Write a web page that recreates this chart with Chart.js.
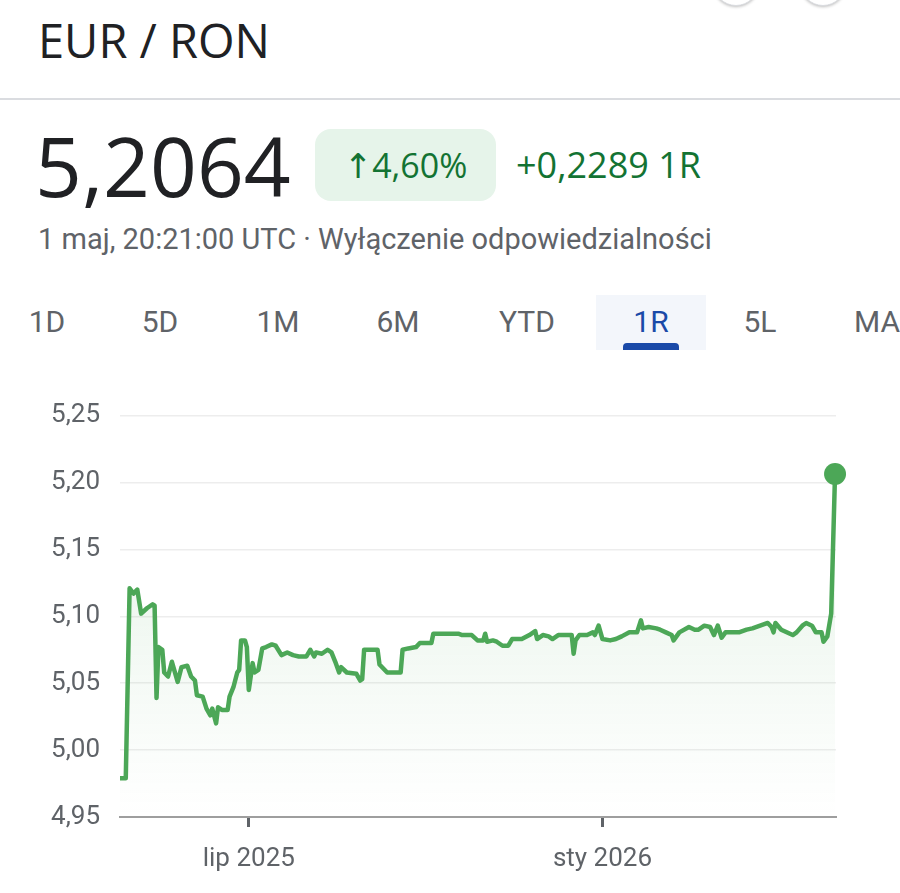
<!DOCTYPE html>
<html>
<head>
<meta charset="utf-8">
<script src="https://cdn.jsdelivr.net/npm/chart.js@4.4.1/dist/chart.umd.min.js"></script>
<style>
  body { margin: 0; width: 900px; height: 893px; overflow: hidden; background: #fff; position: relative; font-family: Roboto, sans-serif; }
  .abs { position: absolute; white-space: nowrap; }
  .btn { position: absolute; top: -40px; width: 44px; height: 44px; border-radius: 50%; border: 1px solid #dadce0; box-shadow: 0 1px 3px rgba(0,0,0,0.25); background: #fff; }
  #title { left: 38px; top: 17px; font-family: "Open Sans", sans-serif; font-size: 47px; line-height: 1; color: #202124; }
  #sep { left: 0; top: 98px; width: 900px; height: 2px; background: #dadce0; }
  #price { left: 35px; top: 124px; font-family: "Open Sans", sans-serif; font-size: 82px; line-height: 1; color: #202124; }
  #badge { left: 315px; top: 129px; width: 181px; height: 72px; border-radius: 16px; background: #e6f4ea; color: #137333;
           font-family: "Open Sans", "DejaVu Sans", sans-serif; font-size: 34px; line-height: 72px; text-align: center; }
  #change { left: 516px; top: 145px; font-family: "Open Sans", sans-serif; font-size: 36px; line-height: 40px; color: #137333; }
  #sub { left: 38px; top: 223px; font-size: 29px; line-height: 32px; color: #5f6368; }
  #tabsel { left: 596px; top: 295px; width: 110px; height: 55px; background: #f3f6fb; }
  #tabline { left: 623px; top: 343px; width: 56px; height: 7px; border-radius: 4px 4px 0 0; background: #1a4aa8; }
  .tab { top: 305px; font-size: 30px; line-height: 34px; color: #5f6368; transform: translateX(-50%); }
  #chartBox { position: absolute; left: 0; top: 380px; width: 900px; height: 513px; }
</style>
</head>
<body>
<div class="btn" style="left:713px"></div>
<div class="btn" style="left:800px"></div>
<div id="title" class="abs">EUR / RON</div>
<div id="sep" class="abs"></div>
<div id="price" class="abs">5,2064</div>
<div id="badge" class="abs">↑4,60%</div>
<div id="change" class="abs">+0,2289 1R</div>
<div id="sub" class="abs">1 maj, 20:21:00 UTC · Wyłączenie odpowiedzialności</div>
<div id="tabsel" class="abs"></div>
<div id="tabline" class="abs"></div>
<div class="abs tab" style="left:47px">1D</div>
<div class="abs tab" style="left:160px">5D</div>
<div class="abs tab" style="left:278px">1M</div>
<div class="abs tab" style="left:398px">6M</div>
<div class="abs tab" style="left:527px">YTD</div>
<div class="abs tab" style="left:651px;color:#1a4aa8">1R</div>
<div class="abs tab" style="left:760px">5L</div>
<div class="abs tab" style="left:877px">MA</div>
<div id="chartBox"><canvas id="rateChart" width="900" height="513"></canvas></div>

<script>
// days since 24 Apr 2025
var dayOffsets = [1, 4, 6, 8, 10, 12, 15, 18, 19, 20, 21, 23, 24, 26, 28, 31, 33, 36, 38, 40,
  41, 44, 46, 48, 49, 51, 52, 54, 57, 58, 60, 62, 63, 64, 66, 67, 68, 70, 71, 73,
  75, 77, 80, 82, 85, 88, 91, 94, 98, 100, 102, 103, 106, 109, 111, 113, 115, 116, 119, 124,
  126, 127, 128, 135, 136, 140, 147, 148, 151, 155, 157, 163, 164, 177, 179, 184, 187, 190, 191, 192,
  195, 197, 200, 203, 205, 210, 214, 217, 218, 221, 224, 226, 229, 233, 236, 237, 238, 240, 244, 247,
  248, 250, 252, 256, 259, 262, 266, 270, 272, 273, 276, 280, 282, 285, 288, 289, 292, 297, 300, 302,
  305, 308, 310, 312, 314, 316, 320, 323, 327, 330, 334, 338, 340, 341, 342, 345, 351, 353, 356, 358,
  361, 363, 366, 367, 369, 371, 373];

var rates = [4.979, 4.979, 5.121, 5.117, 5.120, 5.102, 5.106, 5.109, 5.108, 5.039, 5.077, 5.075, 5.058, 5.055, 5.066, 5.051, 5.062, 5.063, 5.055, 5.052,
  5.041, 5.040, 5.031, 5.026, 5.031, 5.020, 5.032, 5.030, 5.030, 5.040, 5.047, 5.058, 5.060, 5.082, 5.082, 5.077, 5.045, 5.065, 5.058, 5.060,
  5.076, 5.077, 5.079, 5.078, 5.071, 5.073, 5.071, 5.070, 5.070, 5.075, 5.070, 5.073, 5.072, 5.075, 5.073, 5.066, 5.058, 5.062, 5.058, 5.057,
  5.052, 5.053, 5.075, 5.075, 5.064, 5.058, 5.058, 5.075, 5.076, 5.077, 5.080, 5.080, 5.087, 5.087, 5.086, 5.086, 5.082, 5.082, 5.087, 5.081,
  5.082, 5.081, 5.078, 5.078, 5.083, 5.083, 5.086, 5.089, 5.083, 5.086, 5.085, 5.083, 5.086, 5.086, 5.086, 5.072, 5.082, 5.086, 5.086, 5.088,
  5.086, 5.093, 5.083, 5.082, 5.083, 5.085, 5.088, 5.088, 5.097, 5.091, 5.092, 5.091, 5.090, 5.088, 5.086, 5.082, 5.088, 5.092, 5.090, 5.090,
  5.093, 5.092, 5.086, 5.093, 5.084, 5.088, 5.088, 5.088, 5.090, 5.091, 5.093, 5.095, 5.092, 5.088, 5.095, 5.090, 5.086, 5.088, 5.093, 5.095,
  5.093, 5.088, 5.088, 5.081, 5.085, 5.102, 5.2064];

var tickDays = [68, 252];
var tickLabels = ['lip 2025', 'sty 2026'];

var lineGreen = '#4ca757';

var ctx = document.getElementById('rateChart').getContext('2d');
var points = dayOffsets.map(function (d, i) { return { x: d, y: rates[i] }; });
var lastIndex = points.length - 1;

new Chart(ctx, {
  type: 'line',
  data: {
    datasets: [{
      data: points,
      borderColor: lineGreen,
      borderWidth: 4.5,
      borderJoinStyle: 'round',
      tension: 0,
      fill: 'start',
      clip: false,
      backgroundColor: function (c) {
        var area = c.chart.chartArea;
        if (!area) return 'rgba(76,167,87,0.08)';
        var g = c.chart.ctx.createLinearGradient(0, area.top, 0, area.bottom);
        g.addColorStop(0, 'rgba(76,167,87,0.16)');
        g.addColorStop(1, 'rgba(76,167,87,0)');
        return g;
      },
      pointRadius: function (c) { return c.dataIndex === lastIndex ? 11 : 0; },
      pointBackgroundColor: lineGreen,
      pointBorderWidth: 0,
      pointHoverRadius: 0
    }]
  },
  options: {
    responsive: false,
    animation: false,
    layout: { padding: { top: 35, right: 64, left: 0, bottom: 0 } },
    plugins: { legend: { display: false }, tooltip: { enabled: false } },
    scales: {
      x: {
        type: 'linear',
        min: 1,
        max: 373.5,
        afterBuildTicks: function (scale) {
          scale.ticks = tickDays.map(function (v) { return { value: v }; });
        },
        afterFit: function (scale) { scale.height = 76; },
        grid: { drawOnChartArea: false, drawTicks: true, tickLength: 10, tickWidth: 3, tickColor: '#5f6368' },
        border: { display: true, color: '#9e9e9e', width: 2 },
        ticks: {
          autoSkip: false,
          maxRotation: 0,
          padding: 17,
          color: '#5f6368',
          font: { family: 'Roboto', size: 26 },
          callback: function (v) {
            var i = tickDays.indexOf(v);
            return i >= 0 ? tickLabels[i] : '';
          }
        }
      },
      y: {
        min: 4.95,
        max: 5.25,
        afterFit: function (scale) { scale.width = 120; },
        grid: { color: '#ededed', lineWidth: 1.5, drawTicks: false },
        border: { display: false },
        ticks: {
          stepSize: 0.05,
          padding: 20,
          color: '#5f6368',
          font: { family: 'Roboto', size: 26 },
          callback: function (v) { return v.toFixed(2).replace('.', ','); }
        }
      }
    }
  }
});
</script>
</body>
</html>
